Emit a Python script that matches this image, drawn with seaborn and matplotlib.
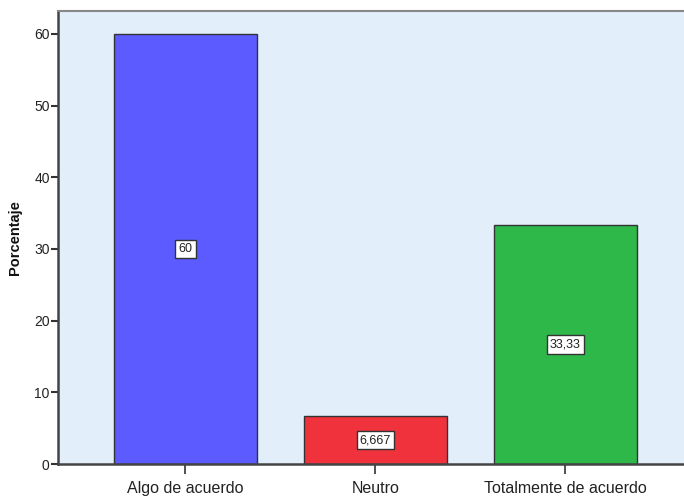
import matplotlib
matplotlib.use("Agg")
import matplotlib.pyplot as plt
import seaborn as sns
import pandas as pd

categories = ["Algo de acuerdo", "Neutro", "Totalmente de acuerdo"]
values = [60, 6.667, 33.33]
value_labels = ["60", "6,667", "33,33"]
colors = ["#5B5BFF", "#F0323C", "#2FB84A"]
yticks = [0, 10, 20, 30, 40, 50, 60]

sns.set_style("white")
plt.rcParams["font.family"] = ["Liberation Sans", "DejaVu Sans"]

fig = plt.figure(figsize=(6.84, 4.96), dpi=100)
ax = fig.add_axes([58 / 684, 32 / 496, 1 - 58 / 684, (464 - 11) / 496])
ax.set_facecolor("#E2EEFA")

df = pd.DataFrame({"cat": categories, "val": values})
sns.barplot(data=df, x="cat", y="val", hue="cat", palette=colors, legend=False,
            width=0.753, edgecolor="#333333", linewidth=1.0, ax=ax, saturation=1)

for cont, lab in zip(ax.containers, value_labels):
    ax.bar_label(cont, labels=[lab], label_type="center", fontsize=9, color="#222222",
                 bbox=dict(boxstyle="square,pad=0.25", facecolor="white", edgecolor="#333333", linewidth=1))

ax.set_ylim(0, 63.2)
ax.set_xlim(-0.671, 2.624)
ax.set_yticks(yticks)
ax.set_yticklabels([str(t) for t in yticks], fontsize=10, color="#222222")
ax.tick_params(axis="y", direction="out", length=5, width=1.5, color="#333333", pad=1, left=True)
ax.tick_params(axis="x", direction="out", length=7, width=1.2, color="#333333", pad=5, bottom=True,
               labelsize=11.5, labelcolor="#222222")
ax.set_xlabel("")
ax.set_ylabel("Porcentaje", fontsize=10.5, fontweight="bold", color="#111111", labelpad=9)

for side in ["left", "bottom"]:
    ax.spines[side].set_color("#444444")
    ax.spines[side].set_linewidth(1.8)
ax.spines["top"].set_color("#888888")
ax.spines["top"].set_linewidth(1.5)
ax.spines["right"].set_visible(False)

fig.savefig("out.png", dpi=100)
